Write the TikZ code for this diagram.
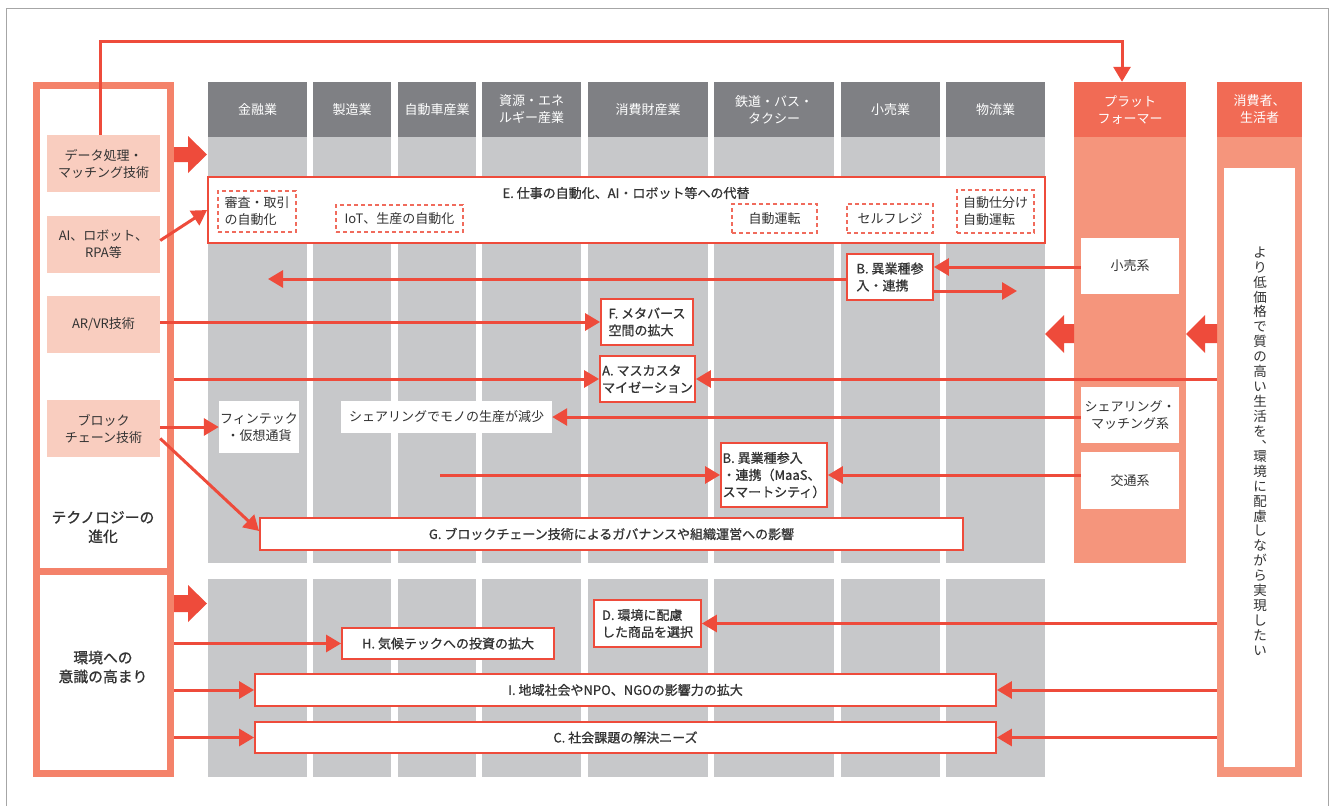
\documentclass[tikz,border=0pt]{standalone}
\usepackage{fontspec}
\setmainfont{Noto Sans CJK JP}
\newfontfamily\medfont{Noto Sans CJK JP}[FakeBold=0.9]
\usetikzlibrary{arrows.meta,calc}
\definecolor{redc}{HTML}{EE4B3B}
\definecolor{framec}{HTML}{F4826A}
\definecolor{pfhead}{HTML}{F16B55}
\definecolor{pfbody}{HTML}{F5957C}
\definecolor{pinkc}{HTML}{F9CDBF}
\definecolor{dgray}{HTML}{7F8084}
\definecolor{lgray}{HTML}{C7C8CA}
\definecolor{txt}{HTML}{333333}
\definecolor{dashred}{HTML}{F06B5C}
\newcommand{\mkbox}[7]{\node[#1, minimum width={#5-#3}, minimum height={#6-#4}] (#2) at ({(#3+#5)/2},{(#4+#6)/2}) {#7};}
\tikzset{
  every node/.style={font=\fontsize{13}{17}\selectfont, text=txt, inner sep=0pt},
  colhead/.style={fill=dgray, text=white, align=center},
  colbody/.style={fill=lgray},
  pfh/.style={fill=pfhead, text=white, align=center},
  pfb/.style={fill=pfbody},
  itembox/.style={fill=pinkc, align=center},
  wbox/.style={fill=white, align=center},
  rbox/.style={draw=redc, line width=1.8pt, fill=white, align=left, font=\fontsize{13}{17}\selectfont\medfont},
  dbox/.style={draw=dashred, line width=1.2pt, dash pattern=on 4pt off 3pt, fill=white, align=left},
  framebox/.style={draw=framec, line width=7pt},
  arr/.style={draw=redc, line width=3pt, -{Triangle[length=15pt,width=17pt]}},
  fat/.style={fill=redc}
}
\begin{document}
\begin{tikzpicture}[x=1pt,y=-1pt]
\useasboundingbox (0,0) rectangle (1330,806);
\fill[white] (0,0) rectangle (1330,806);
\draw[black!35, line width=1pt] (6,806) -- (6,8) -- (1328,8) -- (1328,806);

% industry columns
\foreach \xa/\xb/\nm/\tx in {208/307/1/{金融業}, 313/391/2/{製造業}, 398/476/3/{自動車産業}, 482/581/4/{資源・エネ\\ルギー産業}, 588/708/5/{消費財産業}, 714/834/6/{鉄道・バス・\\タクシー}, 841/940/7/{小売業}, 946/1045/8/{物流業}}{
  \mkbox{colhead}{h\nm}{\xa}{82}{\xb}{137}{\tx}
  \mkbox{colbody}{b\nm}{\xa}{137}{\xb}{563}{}
  \mkbox{colbody}{s\nm}{\xa}{579}{\xb}{777}{}
}

% platformer
\mkbox{pfh}{pfh}{1074}{82}{1186}{137}{プラット\\フォーマー}
\mkbox{pfb}{pfb}{1074}{137}{1186}{563}{}
\mkbox{wbox}{retail}{1081}{238}{1179}{294}{小売系}
\mkbox{wbox}{share}{1081}{387}{1179}{443}{シェアリング・\\マッチング系}
\mkbox{wbox}{kotsu}{1081}{452}{1179}{509}{交通系}

% consumers
\mkbox{pfh}{ch}{1217}{82}{1302}{137}{消費者、\\生活者}
\mkbox{pfb}{cons}{1217}{137}{1302}{777}{}
\mkbox{wbox}{consin}{1224}{168}{1295}{767}{}
\node[font=\fontsize{13.5}{14.9}\selectfont, align=center] (vt) at (1260,451) {よ\\り\\低\\価\\格\\で\\質\\の\\高\\い\\生\\活\\を\\︑\\[-4.5pt]環\\境\\に\\配\\慮\\し\\な\\が\\ら\\実\\現\\し\\た\\い};

% left frames
\mkbox{framebox}{env}{36.5}{571}{170.5}{773.5}{}
\mkbox{framebox}{tech}{36.5}{85.5}{170.5}{571}{}
\mkbox{itembox}{data}{47}{135}{160}{192}{データ処理・\\マッチング技術}
\mkbox{itembox}{ai}{47}{216}{160}{273}{AI、ロボット、\\RPA等}
\mkbox{itembox}{arvr}{47}{296}{160}{353}{AR/VR技術}
\mkbox{itembox}{bc}{47}{400}{160}{457}{ブロック\\チェーン技術}
\node[font=\fontsize{14.8}{19}\selectfont\medfont, align=center] (techlbl) at (103,527) {テクノロジーの\\進化};
\node[font=\fontsize{14.8}{19}\selectfont\medfont, align=center] (envlbl) at (103,667) {環境への\\意識の高まり};

% fat arrows
\fill[fat] (174,147) -- (188,147) -- (188,136) -- (207,154.5) -- (188,173) -- (188,162) -- (174,162) -- cycle;
\fill[fat] (174,595) -- (188,595) -- (188,585) -- (207,603.5) -- (188,622) -- (188,612) -- (174,612) -- cycle;
\fill[fat] (1074,324) -- (1064,324) -- (1064,315) -- (1045,334) -- (1064,353) -- (1064,343) -- (1074,343) -- cycle;
\fill[fat] (1217,324) -- (1205,324) -- (1205,315) -- (1186,334) -- (1205,353) -- (1205,343) -- (1217,343) -- cycle;

% E box
\mkbox{rbox}{E}{208}{177}{1045}{243}{}
\node[font=\fontsize{13}{17}\selectfont\medfont] (Etitle) at (626,193) {E. 仕事の自動化、AI・ロボット等への代替};
\mkbox{dbox}{d1}{218}{191}{296}{232}{審査・取引\\の自動化}
\mkbox{dbox}{d2}{336}{205}{463}{232}{IoT、生産の自動化}
\mkbox{dbox}{d3}{732}{204}{817}{233}{自動運転}
\mkbox{dbox}{d4}{847}{204}{933}{233}{セルフレジ}
\mkbox{dbox}{d5}{957}{190}{1034}{233}{自動仕分け\\自動運転}

% other boxes
\mkbox{rbox}{B1}{847}{254}{933}{300}{B. 異業種参\\入・連携}
\mkbox{rbox}{F}{601}{299}{693}{345}{F. メタバース\\空間の拡大}
\mkbox{rbox}{A}{600}{356}{695}{402}{A. マスカスタ\\マイゼーション}
\mkbox{wbox}{fin}{219}{401}{299}{453}{フィンテック\\・仮想通貨}
\mkbox{wbox}{mono}{341}{401}{552}{433}{シェアリングでモノの生産が減少}
\mkbox{rbox}{B2}{721}{443}{827}{507}{B. 異業種参入\\・連携（MaaS、\\スマートシティ）}
\mkbox{rbox,align=center}{G}{260}{518}{963}{550}{G. ブロックチェーン技術によるガバナンスや組織運営への影響}
\mkbox{rbox}{D}{594}{600}{701}{647}{D. 環境に配慮\\した商品を選択}
\mkbox{rbox,align=center}{H}{342}{628}{554}{659}{H. 気候テックへの投資の拡大}
\mkbox{rbox,align=center}{I}{255}{674}{996}{706}{I. 地域社会やNPO、NGOの影響力の拡大}
\mkbox{rbox,align=center}{C}{255}{722}{996}{753}{C. 社会課題の解決ニーズ}

% coordinates for free ends
\coordinate (cL) at (268,279);
\coordinate (cR) at (1017,291);
\coordinate (cB2) at (440,475);

% connectors
\draw[arr] ($(data.north)+(-3,0)$) |- ($(pfh.north)+(-8,-40)$) -- ($(pfh.north)+(-8,0)$);
\draw[arr] ($(ai.east)+(0,-4)$) -- (E.west);
\coordinate (r1) at ($(retail.west)+(0,1)$);
\draw[arr] (r1) -- (r1 -| B1.east);
\draw[arr] ($(B1.west)+(0,2)$) -- (cL);
\draw[arr] ($(B1.east)+(0,14)$) -- (cR);
\draw[arr] (F.west -| arvr.east) -- (F.west);
\draw[arr] (A.west -| tech.east) -- (A.west);
\draw[arr] (A.east -| cons.west) -- (A.east);
\draw[arr] (mono.east -| share.west) -- (mono.east);
\draw[arr] (fin.west -| bc.east) -- (fin.west);
\draw[arr] ($(bc.east)+(0,10)$) -- ($(G.west)+(0,-3)$);
\draw[arr] (cB2) -- (B2.west);
\draw[arr] (B2.east -| kotsu.west) -- (B2.east);
\draw[arr] (D.east -| cons.west) -- (D.east);
\draw[arr] (H.west -| env.east) -- (H.west);
\draw[arr] (I.west -| env.east) -- (I.west);
\draw[arr] (I.east -| cons.west) -- (I.east);
\draw[arr] (C.west -| env.east) -- (C.west);
\draw[arr] (C.east -| cons.west) -- (C.east);
\end{tikzpicture}
\end{document}
